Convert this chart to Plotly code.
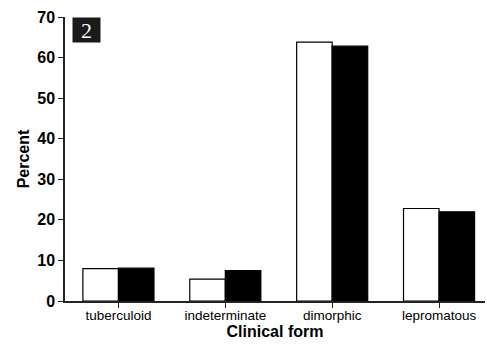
import plotly.graph_objects as go

# Clinical form categories and the two percentage series
categories = ["tuberculoid", "indeterminate", "dimorphic", "lepromatous"]
series_open = [8.0, 5.4, 63.8, 22.8]
series_filled = [8.1, 7.5, 62.8, 22.0]
y_ticks = [0, 10, 20, 30, 40, 50, 60, 70]

fig = go.Figure()
fig.add_bar(x=categories, y=series_open, name="A",
            marker=dict(color="white", line=dict(color="black", width=1.2)))
fig.add_bar(x=categories, y=series_filled, name="B",
            marker=dict(color="black", line=dict(color="black", width=1.2)))

fig.update_layout(
    width=487, height=344,
    margin=dict(l=65, r=2, t=17, b=43),
    paper_bgcolor="white", plot_bgcolor="white",
    barmode="group", bargap=0.335, bargroupgap=0,
    showlegend=False,
    font=dict(family="Liberation Sans, Arial, sans-serif", color="black"),
    xaxis=dict(
        type="category", range=[-0.5, 3.43],
        showline=True, linecolor="#222", linewidth=1.5,
        ticks="outside", ticklen=5, tickwidth=1.2, tickcolor="#222",
        ticklabelstandoff=-4,
        showgrid=False, zeroline=False,
        tickfont=dict(size=13.5),
        title=dict(text="Clinical form", font=dict(size=16, weight="bold"), standoff=0),
    ),
    yaxis=dict(
        range=[0, 70], tickvals=y_ticks,
        showline=True, linecolor="#222", linewidth=1.5,
        ticks="outside", ticklen=5, tickwidth=1.2, tickcolor="#222",
        showgrid=False, zeroline=False,
        tickfont=dict(size=16, weight="bold"),
        title=dict(text="Percent", font=dict(size=16, weight="bold"), standoff=4),
    ),
)

# Panel label
fig.add_annotation(
    x=(72 - 65) / 420, y=1.0, xref="paper", yref="paper",
    xanchor="left", yanchor="top",
    text="2", showarrow=False,
    font=dict(family="Liberation Serif, Times New Roman, serif", size=22, color="white"),
    bgcolor="#1a1a1a", width=27, height=24, borderpad=0,
)

fig.write_html("out.html")
